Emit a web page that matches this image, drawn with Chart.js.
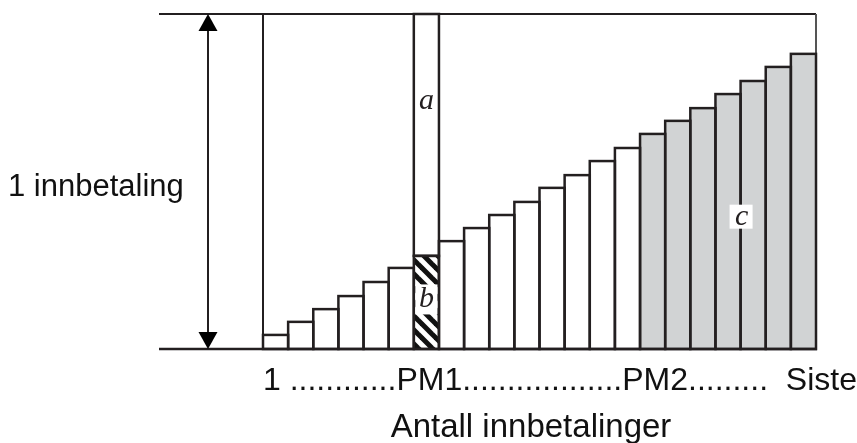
<!DOCTYPE html>
<html>
<head>
<meta charset="utf-8">
<script src="https://cdn.jsdelivr.net/npm/chart.js@4.4.1/dist/chart.umd.min.js"></script>
<style>
  html, body { margin: 0; padding: 0; background: #ffffff; }
  #wrap { width: 857px; height: 443px; position: relative; }
</style>
</head>
<body>
<div id="wrap"><canvas id="c" width="857" height="443"></canvas></div>
<script>
// ---- data ----
const categories = ['1','2','3','4','5','6','7','8','9','10','11','12','13','14','15','16','17','18','19','20','21','22'];
// principal part of each payment, as a share of one payment
const principalShare = [0.042,0.081,0.119,0.158,0.200,0.242,0.278,0.322,0.361,0.400,0.439,0.481,0.519,0.561,0.600,0.642,0.681,0.719,0.761,0.800,0.842,0.881];
// interest part, shown only for payment PM1
const interestShare = [null,null,null,null,null,null,0.722,null,null,null,null,null,null,null,null,null,null,null,null,null,null,null];
// fill kind of each bar: 'w' white, 'h' hatched (PM1), 'g' grey (after PM2)
const barKind = ['w','w','w','w','w','w','h','w','w','w','w','w','w','w','w','g','g','g','g','g','g','g'];
const tickLabels = ['1', 'PM1', 'PM2', 'Siste'];
const tickDots = [12, 18, 9];
const yLabel = '1 innbetaling';
const xTitle = 'Antall innbetalinger';
const partLabels = ['a', 'b', 'c'];

const INK = '#231f20';
const GREY = '#d1d3d4';
const SANS = '"Liberation Sans", Arial, Helvetica, sans-serif';
const SERIF = '"Liberation Serif", "Times New Roman", serif';

function makeHatch() {
  const s = 14;
  const t = document.createElement('canvas');
  t.width = s; t.height = s;
  const g = t.getContext('2d');
  g.fillStyle = '#ffffff';
  g.fillRect(0, 0, s, s);
  g.strokeStyle = '#111111';
  g.lineWidth = 5;
  for (let k = -1; k <= 1; k++) {
    g.beginPath();
    g.moveTo(k * s - 2, -2);
    g.lineTo(k * s + s + 2, s + 2);
    g.stroke();
  }
  return g.createPattern(t, 'repeat');
}

const ctx0 = document.getElementById('c').getContext('2d');
const hatch = makeHatch();
const fills = barKind.map(k => k === 'h' ? hatch : (k === 'g' ? GREY : '#ffffff'));

const framePlugin = {
  id: 'frame',
  beforeDatasetsDraw(chart) {
    const { ctx, scales: { x, y } } = chart;
    const top = y.getPixelForValue(1), bot = y.getPixelForValue(0);
    const left = x.left, right = x.right;
    ctx.save();
    ctx.strokeStyle = INK;
    ctx.lineWidth = 2;
    ctx.beginPath();
    ctx.moveTo(159, top); ctx.lineTo(right, top);
    ctx.moveTo(left, top); ctx.lineTo(left, bot);
    ctx.stroke();
    ctx.strokeStyle = '#555555';
    ctx.beginPath();
    ctx.moveTo(right, top); ctx.lineTo(right, bot);
    ctx.stroke();
    ctx.restore();
  },
  afterDatasetsDraw(chart) {
    const { ctx, scales: { x, y } } = chart;
    const top = y.getPixelForValue(1), bot = y.getPixelForValue(0);
    ctx.save();
    ctx.strokeStyle = INK;
    ctx.lineWidth = 2.5;
    chart.data.datasets.forEach((ds, di) => {
      const meta = chart.getDatasetMeta(di);
      meta.data.forEach((el, i) => {
        if (ds.data[i] == null) return;
        const p = el.getProps(['x', 'y', 'base', 'width'], true);
        ctx.strokeRect(p.x - p.width / 2, p.y, p.width, p.base - p.y);
      });
    });
    ctx.lineWidth = 2.5;
    ctx.beginPath();
    ctx.moveTo(159, bot); ctx.lineTo(x.right + 1, bot);
    ctx.stroke();

    // double arrow
    const ax = 208;
    ctx.lineWidth = 2;
    ctx.beginPath();
    ctx.moveTo(ax, top + 10); ctx.lineTo(ax, bot - 10);
    ctx.stroke();
    ctx.fillStyle = '#000000';
    ctx.beginPath();
    ctx.moveTo(ax, top); ctx.lineTo(ax - 9.5, top + 17); ctx.lineTo(ax + 9.5, top + 17); ctx.closePath();
    ctx.fill();
    ctx.beginPath();
    ctx.moveTo(ax, bot); ctx.lineTo(ax - 9.5, bot - 17); ctx.lineTo(ax + 9.5, bot - 17); ctx.closePath();
    ctx.fill();

    // part labels
    const m0 = chart.getDatasetMeta(0).data;
    const pm1 = m0[barKind.indexOf('h')].getProps(['x', 'y', 'base', 'width'], true);
    ctx.font = 'italic 30px ' + SERIF;
    ctx.textAlign = 'center';
    ctx.textBaseline = 'middle';
    ctx.fillStyle = INK;
    ctx.fillText(partLabels[0], pm1.x, y.getPixelForValue(0.74));
    const by = (pm1.y + pm1.base) / 2 - 3;
    ctx.fillStyle = '#ffffff';
    ctx.fillRect(pm1.x - pm1.width / 2 + 1.5, by - 15, pm1.width - 3, 30);
    ctx.fillStyle = INK;
    ctx.fillText(partLabels[1], pm1.x, by);
    const gi = barKind.indexOf('g');
    const gEls = m0.slice(gi);
    const cx = (gEls[3].x + gEls[4].x) / 2;
    const cy = y.getPixelForValue(0.395);
    ctx.fillStyle = '#ffffff';
    ctx.fillRect(cx - 11, cy - 12, 23, 24);
    ctx.fillStyle = INK;
    ctx.fillText(partLabels[2], cx + 1, cy);

    // texts
    ctx.font = '31px ' + SANS;
    ctx.fillStyle = '#111111';
    ctx.textAlign = 'left';
    ctx.textBaseline = 'middle';
    ctx.fillText(yLabel, 8, (top + bot) / 2 + 6);

    ctx.font = '32px ' + SANS;
    const dots = n => '.'.repeat(n);
    const line = tickLabels[0] + ' ' + dots(tickDots[0]) + tickLabels[1] + dots(tickDots[1]) + tickLabels[2] + dots(tickDots[2]) + '  ' + tickLabels[3];
    ctx.fillText(line, x.left, bot + 32);

    ctx.font = '33px ' + SANS;
    ctx.textAlign = 'center';
    ctx.fillText(xTitle, 531, bot + 79);
    ctx.restore();
  }
};

new Chart(ctx0, {
  type: 'bar',
  data: {
    labels: categories,
    datasets: [
      { data: principalShare, backgroundColor: fills, borderWidth: 0, stack: 's' },
      { data: interestShare, backgroundColor: '#ffffff', borderWidth: 0, stack: 's' }
    ]
  },
  options: {
    responsive: false,
    animation: false,
    events: [],
    layout: { padding: { left: 263, right: 41, top: 14, bottom: 94 } },
    datasets: { bar: { categoryPercentage: 1, barPercentage: 1 } },
    plugins: { legend: { display: false }, tooltip: { enabled: false }, title: { display: false } },
    scales: {
      x: { display: false, stacked: true, offset: true },
      y: { display: false, stacked: true, min: 0, max: 1 }
    }
  },
  plugins: [framePlugin]
});
</script>
</body>
</html>
